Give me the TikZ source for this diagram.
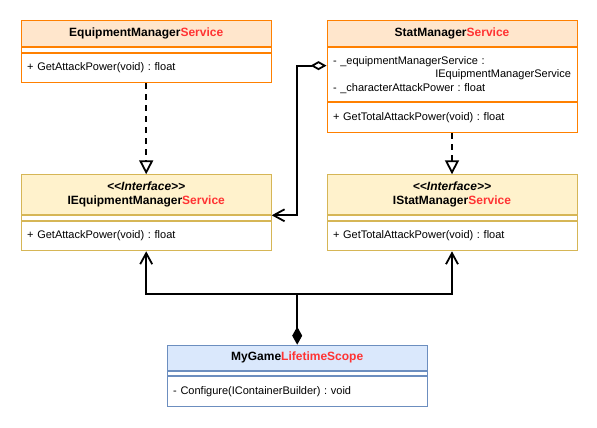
\documentclass[tikz,border=0pt]{standalone}
\usepackage{fontspec}
\setmainfont{Liberation Sans}
\usepackage{tikz}
\usetikzlibrary{arrows.meta, positioning}
\frenchspacing
\definecolor{svcfill}{HTML}{FFE6CC}
\definecolor{svcline}{HTML}{FF8000}
\definecolor{itffill}{HTML}{FFF2CC}
\definecolor{itfline}{HTML}{D6B656}
\definecolor{scpfill}{HTML}{DAE8FC}
\definecolor{scpline}{HTML}{6C8EBF}
\definecolor{namered}{HTML}{FF3333}
\newcommand\redpart[1]{\textcolor{namered}{#1}}
\tikzset{
    head/.style={draw, line width=1pt, minimum width=250pt, inner sep=0pt, align=center, font=\bfseries\fontsize{12}{14}\selectfont}, % 类名栏
    gapbox/.style={draw, line width=1pt, fill=white, minimum width=250pt, minimum height=4.4pt, inner sep=0pt}, % 空属性栏
    body/.style={draw, line width=1pt, fill=white, text width=238pt, inner xsep=6pt, inner ysep=0pt, align=left, font=\fontsize{11}{13.5}\selectfont}, % 成员栏
    realize/.style={line width=1.8pt, dash pattern=on 6pt off 5pt, -{Triangle[open, length=14pt, width=14pt]}},
    uses/.style={line width=1.8pt, -{Straight Barb[length=11pt, width=12pt]}},
    aggr/.style={line width=1.8pt, {Diamond[open, length=16pt, width=9pt]}-{Straight Barb[length=11pt, width=12pt]}},
    comp/.style={line width=1.8pt, {Diamond[length=18pt, width=10pt]}-}
}
\begin{document}
\begin{tikzpicture}[x=1pt, y=-1pt]
    \useasboundingbox (0,0) rectangle (597,428);

    % services
    \node[head, fill=svcfill, draw=svcline, minimum height=26pt, anchor=north west] (eqh) at (20.7,20.3) {EquipmentManager\redpart{Service}};
    \node[gapbox, draw=svcline, below=0pt of eqh] (eqg) {};
    \node[body, draw=svcline, minimum height=29.6pt, below=0pt of eqg] (eqm) {+ GetAttackPower(void) : float};

    \node[head, fill=svcfill, draw=svcline, minimum height=26pt, anchor=north west] (sth) at (326.5,20.3) {StatManager\redpart{Service}};
    \node[body, draw=svcline, minimum height=53.7pt, below=0pt of sth] (sta) {- \_equipmentManagerService :\\ \mbox{}\hfill IEquipmentManagerService\hspace*{5pt}\\ - \_characterAttackPower : float};
    \node[body, draw=svcline, minimum height=30pt, below=0pt of sta] (stm) {+ GetTotalAttackPower(void) : float};

    % interfaces
    \node[head, fill=itffill, draw=itfline, minimum height=40pt, anchor=north west] (ieqh) at (20.7,174.3) {\textit{<{}<Interface>{}>}\\ IEquipmentManager\redpart{Service}};
    \node[gapbox, draw=itfline, below=0pt of ieqh] (ieqg) {};
    \node[body, draw=itfline, minimum height=29.6pt, below=0pt of ieqg] (ieqm) {+ GetAttackPower(void) : float};

    \node[head, fill=itffill, draw=itfline, minimum height=40pt, anchor=north west] (isth) at (326.5,174.3) {\textit{<{}<Interface>{}>}\\ IStatManager\redpart{Service}};
    \node[gapbox, draw=itfline, below=0pt of isth] (istg) {};
    \node[body, draw=itfline, minimum height=29.6pt, below=0pt of istg] (istm) {+ GetTotalAttackPower(void) : float};

    % lifetime scope
    \node[head, fill=scpfill, draw=scpline, minimum width=260pt, minimum height=25.3pt, anchor=north west] (scph) at (166.7,344.7) {MyGame\redpart{LifetimeScope}};
    \node[gapbox, draw=scpline, minimum width=260pt, below=0pt of scph] (scpg) {};
    \node[body, draw=scpline, text width=248pt, minimum height=29.7pt, below=0pt of scpg] (scpm) {- Configure(IContainerBuilder) : void};

    % relations
    \draw[realize] (eqm.south) -- (ieqh.north);
    \draw[realize] (stm.south) -- (isth.north);
    \draw[aggr] ([yshift=9pt]sta.west) -- ++(-29.6,0) |- (ieqh.south east);
    \coordinate (hub) at ([yshift=50.7pt]scph.north);
    \draw[comp] (scph.north) -- (hub);
    \draw[uses] (hub) -| (ieqm.south);
    \draw[uses] (hub) -| (istm.south);
\end{tikzpicture}
\end{document}
